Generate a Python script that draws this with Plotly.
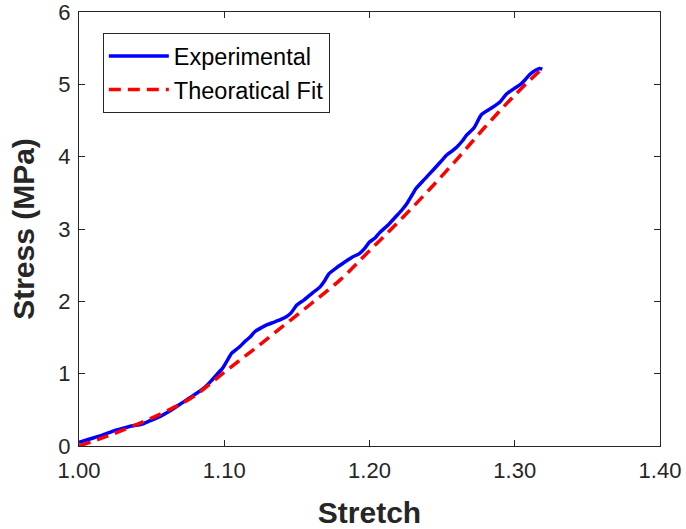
import plotly.graph_objects as go

exp_stretch = [1.000, 1.008, 1.016, 1.024, 1.031, 1.037, 1.043, 1.049, 1.056, 1.063, 1.069,
               1.075, 1.081, 1.086, 1.091, 1.095, 1.099, 1.102, 1.105, 1.108, 1.111,
               1.114, 1.118, 1.121, 1.125, 1.130, 1.134, 1.139, 1.143, 1.146, 1.150,
               1.155, 1.161, 1.166, 1.169, 1.172, 1.177, 1.182, 1.188, 1.193, 1.197,
               1.200, 1.204, 1.207, 1.213, 1.219, 1.223, 1.226, 1.229, 1.232, 1.238,
               1.244, 1.249, 1.253, 1.257, 1.260, 1.264, 1.267, 1.272, 1.277, 1.283,
               1.290, 1.294, 1.298, 1.301, 1.304, 1.307, 1.310, 1.314, 1.317, 1.319]
exp_stress = [0.05, 0.10, 0.15, 0.21, 0.25, 0.28, 0.30, 0.35, 0.41, 0.49, 0.57,
              0.65, 0.73, 0.80, 0.90, 0.99, 1.08, 1.18, 1.28, 1.33, 1.38,
              1.44, 1.51, 1.58, 1.63, 1.68, 1.71, 1.75, 1.79, 1.84, 1.95,
              2.02, 2.12, 2.20, 2.28, 2.38, 2.46, 2.53, 2.61, 2.66, 2.74,
              2.82, 2.88, 2.95, 3.06, 3.19, 3.28, 3.36, 3.46, 3.56, 3.69,
              3.82, 3.93, 4.02, 4.08, 4.13, 4.22, 4.30, 4.40, 4.58, 4.66,
              4.76, 4.86, 4.92, 4.96, 5.00, 5.06, 5.13, 5.19, 5.22, 5.21]

# Theoretical fit
fit_stretch = [1.00, 1.02, 1.04, 1.06, 1.08, 1.10, 1.12, 1.14, 1.16, 1.18, 1.20,
               1.22, 1.24, 1.26, 1.28, 1.30, 1.318]
fit_stress = [0.00, 0.14, 0.30, 0.48, 0.70, 1.02, 1.33, 1.65, 1.97, 2.30, 2.70,
              3.10, 3.52, 3.96, 4.42, 4.85, 5.20]

x_ticks = [1.00, 1.10, 1.20, 1.30, 1.40]
y_ticks = [0, 1, 2, 3, 4, 5, 6]

axis_color = "#262626"
font_family = "Liberation Sans, Arial, sans-serif"

fig = go.Figure()
fig.add_trace(go.Scatter(x=exp_stretch, y=exp_stress, mode="lines",
                         name="Experimental", line_shape="spline",
                         line=dict(color="#0000FF", width=3.5, smoothing=0.6)))
fig.add_trace(go.Scatter(x=fit_stretch, y=fit_stress, mode="lines",
                         name="Theoratical Fit", line_shape="spline",
                         line=dict(color="#FF0000", width=3.5, dash="12px,7px")))

fig.update_layout(
    width=686, height=529,
    margin=dict(l=79, r=26, t=12, b=83),
    paper_bgcolor="white", plot_bgcolor="white",
    font=dict(family=font_family, color=axis_color),
    showlegend=True,
    legend=dict(x=0.041, y=0.951, xanchor="left", yanchor="top",
                bgcolor="white", bordercolor=axis_color, borderwidth=1,
                font=dict(size=23.5, color="#000000"),
                itemwidth=60, tracegroupgap=0),
    xaxis=dict(range=[1.0, 1.4], tickvals=x_ticks, automargin=False,
               ticktext=[f"{v:.2f}" for v in x_ticks],
               showgrid=False, zeroline=False, ticklabeloverflow="allow",
               showline=True, linecolor=axis_color, linewidth=1, mirror="ticks",
               ticks="inside", ticklen=6, tickcolor=axis_color, ticklabelstandoff=5,
               tickfont=dict(size=22, color=axis_color),
               title=dict(text="<b>Stretch</b>", font=dict(size=30, color=axis_color), standoff=22)),
    yaxis=dict(range=[0, 6], tickvals=y_ticks, automargin=False,
               showgrid=False, zeroline=False, ticklabeloverflow="allow",
               showline=True, linecolor=axis_color, linewidth=1, mirror="ticks",
               ticks="inside", ticklen=6, tickcolor=axis_color, ticklabelstandoff=3,
               tickfont=dict(size=22, color=axis_color),
               title=dict(text="<b>Stress (MPa)</b>", font=dict(size=30, color=axis_color), standoff=14)),
)

fig.write_html("out.html")
